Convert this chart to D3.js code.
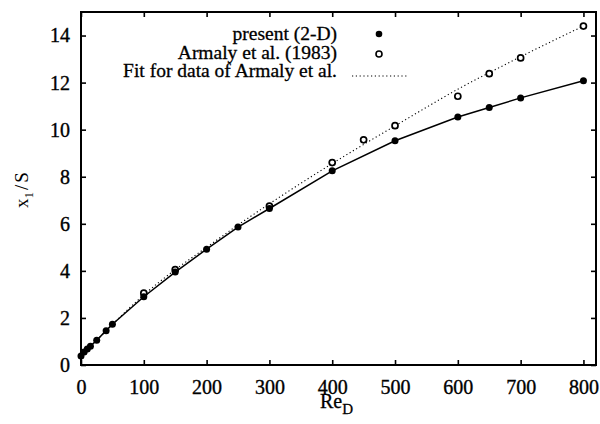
<!DOCTYPE html>
<html>
<head>
<meta charset="utf-8">
<script src="https://cdn.jsdelivr.net/npm/d3@7"></script>
<style>
  html, body { margin: 0; padding: 0; background: #fff; }
  svg { display: block; }
  text { font-family: "Liberation Serif", "Times New Roman", serif; fill: #000; }
</style>
</head>
<body>
<svg id="chart" width="600" height="424"></svg>
<script>
// Reattachment length x1/S versus Reynolds number Re_D
const presentRe   = [0, 5, 10, 15, 25, 40, 50, 100, 150, 200, 250, 300, 400, 500, 600, 650, 700, 800];
const presentX1S  = [0.38, 0.55, 0.68, 0.80, 1.05, 1.46, 1.73, 2.90, 3.95, 4.92, 5.86, 6.65, 8.25, 9.53, 10.54, 10.94, 11.35, 12.08];

const armalyRe    = [100, 150, 300, 400, 450, 500, 600, 650, 700, 800];
const armalyX1S   = [3.05, 4.05, 6.75, 8.60, 9.57, 10.17, 11.42, 12.38, 13.05, 14.40];

const fitRe       = [0, 50, 100, 150, 200, 250, 300, 350, 400, 450, 500, 550, 600, 650, 700, 750, 800];
const fitX1S      = [0.36, 1.72, 2.98, 4.05, 5.00, 5.95, 6.85, 7.72, 8.56, 9.37, 10.16, 10.95, 11.72, 12.42, 13.10, 13.76, 14.40];

const xTicks = [0, 100, 200, 300, 400, 500, 600, 700, 800];
const yTicks = [0, 2, 4, 6, 8, 10, 12, 14];

const legendLabels = ["present (2-D)", "Armaly et al. (1983)", "Fit for data of Armaly et al."];

const svg = d3.select("#chart");
const plot = { left: 81, right: 596, top: 12, bottom: 365 };

const x = d3.scaleLinear().domain([0, 820]).range([plot.left, plot.right]);
const y = d3.scaleLinear().domain([0, 15]).range([plot.bottom, plot.top]);

const tickLen = 5;

// Frame-style axes with inward ticks on all four sides
const axes = svg.append("g").attr("class", "axes");

const bottomAxis = d3.axisBottom(x).tickValues(xTicks).tickSize(-tickLen).tickPadding(15);
const topAxis    = d3.axisTop(x).tickValues(xTicks).tickSize(-tickLen).tickFormat("");
const leftAxis   = d3.axisLeft(y).tickValues(yTicks).tickSize(-tickLen).tickPadding(11);
const rightAxis  = d3.axisRight(y).tickValues(yTicks).tickSize(-tickLen).tickFormat("");

axes.append("g").attr("transform", `translate(0,${plot.bottom})`).call(bottomAxis);
axes.append("g").attr("transform", `translate(0,${plot.top})`).call(topAxis);
axes.append("g").attr("transform", `translate(${plot.left},0)`).call(leftAxis);
axes.append("g").attr("transform", `translate(${plot.right},0)`).call(rightAxis);

axes.selectAll(".domain").remove();
axes.selectAll(".tick line").attr("stroke", "#000").attr("stroke-width", 1.6);
axes.selectAll(".tick text")
  .attr("font-size", 20)
  .attr("font-family", "Liberation Serif, serif")
  .attr("fill", "#000")
  .attr("stroke", "#000")
  .attr("stroke-width", 0.35);

// box outline
svg.append("rect")
  .attr("x", plot.left).attr("y", plot.top)
  .attr("width", plot.right - plot.left).attr("height", plot.bottom - plot.top)
  .attr("fill", "none").attr("stroke", "#000").attr("stroke-width", 2);

// Fit curve (dotted)
const fitLine = d3.line().x((d, i) => x(fitRe[i])).y(d => y(d)).curve(d3.curveMonotoneX);
svg.append("path")
  .attr("d", fitLine(fitX1S))
  .attr("fill", "none").attr("stroke", "#000")
  .attr("stroke-width", 1.1).attr("stroke-dasharray", "1.2,2.6");

// Present results line (solid)
const presentLine = d3.line().x((d, i) => x(presentRe[i])).y(d => y(d));
svg.append("path")
  .attr("d", presentLine(presentX1S))
  .attr("fill", "none").attr("stroke", "#000").attr("stroke-width", 1.5);

// Armaly et al. experimental points (open circles)
svg.append("g").selectAll("circle")
  .data(armalyX1S)
  .join("circle")
  .attr("cx", (d, i) => x(armalyRe[i]))
  .attr("cy", d => y(d))
  .attr("r", 3)
  .attr("fill", "#fff").attr("stroke", "#000").attr("stroke-width", 1.7);

// Present points (filled)
svg.append("g").selectAll("circle")
  .data(presentX1S)
  .join("circle")
  .attr("cx", (d, i) => x(presentRe[i]))
  .attr("cy", d => y(d))
  .attr("r", 3.5)
  .attr("fill", "#000");

// Legend
const legend = svg.append("g").attr("class", "legend");
const legendTextX = 337, legendKeyX = 379;
const legendY = [40, 58.5, 76.5];
legendLabels.forEach((lab, i) => {
  legend.append("text")
    .attr("x", legendTextX).attr("y", legendY[i])
    .attr("text-anchor", "end")
    .attr("font-size", 19.5)
    .attr("stroke", "#000").attr("stroke-width", 0.3)
    .text(lab);
});
legend.append("circle").attr("cx", legendKeyX).attr("cy", 34).attr("r", 3.3).attr("fill", "#000");
legend.append("circle").attr("cx", legendKeyX).attr("cy", 54).attr("r", 3)
  .attr("fill", "#fff").attr("stroke", "#000").attr("stroke-width", 1.6);
legend.append("line")
  .attr("x1", 352).attr("x2", 407).attr("y1", 76).attr("y2", 76)
  .attr("stroke", "#000").attr("stroke-width", 1.1).attr("stroke-dasharray", "1.2,2.6");

// Axis titles
const xTitle = svg.append("text")
  .attr("x", 320).attr("y", 408)
  .attr("font-size", 20)
  .attr("stroke", "#000").attr("stroke-width", 0.3);
xTitle.append("tspan").text("Re");
xTitle.append("tspan").attr("dy", 6).attr("font-size", 15).text("D");

const yTitle = svg.append("text")
  .attr("transform", "translate(28,190) rotate(-90)")
  .attr("text-anchor", "middle")
  .attr("font-family", "Liberation Sans, Arial, sans-serif")
  .attr("font-size", 19);
yTitle.append("tspan").text("x");
yTitle.append("tspan").attr("dy", 5).attr("font-size", 13).text("1");
yTitle.append("tspan").attr("dy", -5).attr("dx", 2).text("/");
yTitle.append("tspan").attr("dx", 2).text("S");
</script>
</body>
</html>
